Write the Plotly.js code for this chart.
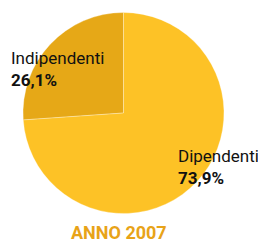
<!DOCTYPE html>
<html><head><meta charset="utf-8">
<script src="https://cdn.plot.ly/plotly-3.0.1.min.js"></script>
<style>html,body{margin:0;padding:0;background:#fff}</style>
</head><body><div id="chart" style="width:258px;height:248px"></div>
<script>
const categories = ["Indipendenti", "Dipendenti"];
const values = [26.1, 73.9];
const valueLabels = ["26,1%", "73,9%"];
const sliceColors = ["#E6A817", "#FDC226"];
const titleText = "ANNO 2007";

const W = 258, H = 248;
const font = "Roboto, 'Liberation Sans', sans-serif";
const total = values.reduce((a, b) => a + b, 0);
const trace = {
  type: "pie",
  labels: categories,
  values: values,
  sort: false,
  direction: "clockwise",
  rotation: -360 * values[0] / total,
  textinfo: "none",
  hoverinfo: "none",
  marker: {colors: sliceColors, line: {color: "rgba(255,255,255,0.6)", width: 0.5}},
  domain: {x: [22.5/W, 224.5/W], y: [1-213.5/H, 1-12.5/H]},
  showlegend: false
};
const labelPos = [[9, 46], [176, 144]];
const annotations = categories.map((c, i) => ({
  xref: "paper", yref: "paper",
  x: labelPos[i][0]/W, y: 1 - labelPos[i][1]/H,
  xanchor: "left", yanchor: "top", align: "left",
  showarrow: false,
  text: c + "<br><b>" + valueLabels[i] + "</b>",
  font: {family: font, size: 17, color: "#111"}
}));
annotations.push({
  xref: "paper", yref: "paper", x: 119/W, y: 1 - 232/H,
  xanchor: "center", yanchor: "middle", showarrow: false,
  text: "<b>" + titleText + "</b>",
  font: {family: font, size: 18, color: "#E8A318"}
});
Plotly.newPlot("chart", [trace], {
  width: W, height: H,
  margin: {l: 0, r: 0, t: 0, b: 0},
  paper_bgcolor: "#fff", plot_bgcolor: "#fff",
  annotations: annotations
}, {staticPlot: true});
</script></body></html>
